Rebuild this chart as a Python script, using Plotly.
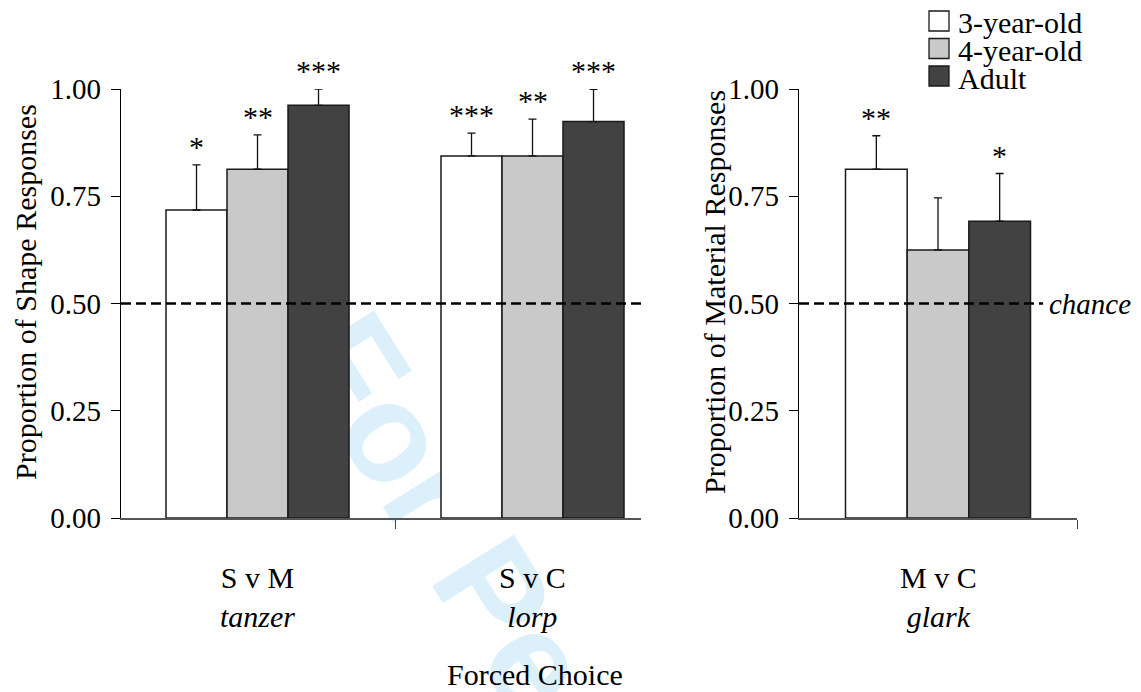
import plotly.graph_objects as go

# window size and the browser's default body margin around the figure
WIN_W, WIN_H = 1141, 692
BODY = 8
W, H = WIN_W - BODY, WIN_H - BODY

# ---------------- data ----------------
age_groups = ["3-year-old", "4-year-old", "Adult"]
bar_colors = ["#ffffff", "#c9c9c9", "#424242"]

shape_categories = ["S v M<br><i>tanzer</i>", "S v C<br><i>lorp</i>"]
shape_3yo = [0.718, 0.844]
shape_4yo = [0.813, 0.844]
shape_adult = [0.962, 0.924]
shape_3yo_err = [0.105, 0.053]
shape_4yo_err = [0.080, 0.086]
shape_adult_err = [0.038, 0.075]
shape_3yo_sig = ["*", "***"]
shape_4yo_sig = ["**", "**"]
shape_adult_sig = ["***", "***"]

material_categories = ["M v C<br><i>glark</i>"]
material_3yo = [0.813]
material_4yo = [0.625]
material_adult = [0.692]
material_3yo_err = [0.078]
material_4yo_err = [0.121]
material_adult_err = [0.111]
material_3yo_sig = ["**"]
material_4yo_sig = [""]
material_adult_sig = ["*"]

y_ticks = [0.0, 0.25, 0.5, 0.75, 1.0]
chance_level = 0.5
y_titles = ["Proportion of Shape Responses", "Proportion of Material Responses"]
x_title = "Forced Choice"

# ---------------- style ----------------
SERIF = "Liberation Serif, Times New Roman, serif"
FS = 30
TICK_FS = 29
BARGAP = 0.3345


def px_x(p):
    """window pixel (from left) -> paper x"""
    return (p - BODY) / W


def px_y(p):
    """window pixel (from top) -> paper y"""
    return 1 - (p - BODY) / H


shape_vals = [shape_3yo, shape_4yo, shape_adult]
shape_errs = [shape_3yo_err, shape_4yo_err, shape_adult_err]
shape_sigs = [shape_3yo_sig, shape_4yo_sig, shape_adult_sig]
mat_vals = [material_3yo, material_4yo, material_adult]
mat_errs = [material_3yo_err, material_4yo_err, material_adult_err]
mat_sigs = [material_3yo_sig, material_4yo_sig, material_adult_sig]

fig = go.Figure()

annotations = []
shapes = []

# watermark, as a label of an invisible shape drawn below the traces
shapes.append(dict(
    type="rect", xref="paper", yref="paper", layer="below",
    x0=px_x(618), x1=px_x(638), y0=px_y(793), y1=px_y(773),
    line=dict(width=0), fillcolor="rgba(0,0,0,0)",
    label=dict(text="<b>For Peer Review</b>", textangle=58, textposition="middle center",
               font=dict(family="Liberation Sans, Arial, sans-serif", size=140,
                         color="#dcf0fc")),
))


def add_panel(cats, vals, errs, sigs, xa, ya):
    n = len(cats)
    xs = list(range(n))
    gw = 1 - BARGAP
    bw = gw / len(age_groups)
    for k, (name, col) in enumerate(zip(age_groups, bar_colors)):
        fig.add_trace(go.Bar(
            x=xs, y=vals[k], name=name, xaxis=xa, yaxis=ya, showlegend=False,
            marker=dict(color=col, line=dict(color="#1a1a1a", width=1.5)),
            error_y=dict(type="data", symmetric=False, array=errs[k],
                         arrayminus=[0] * n, color="#111111", thickness=1.3, width=4),
            cliponaxis=False,
        ))
        off = -gw / 2 + bw * (k + 0.5)
        for i in range(n):
            if sigs[k][i]:
                annotations.append(dict(
                    text=sigs[k][i], x=xs[i] + off, y=vals[k][i] + errs[k][i],
                    xref=xa, yref=ya, xanchor="center", yanchor="bottom",
                    showarrow=False, font=dict(family=SERIF, size=FS, color="black"),
                ))
    for i, c in enumerate(cats):
        annotations.append(dict(
            text=c, x=xs[i], y=px_y(559), xref=xa, yref="paper",
            xanchor="center", yanchor="top", showarrow=False,
            font=dict(family=SERIF, size=FS, color="black"),
        ))


add_panel(shape_categories, shape_vals, shape_errs, shape_sigs, "x", "y")
add_panel(material_categories, mat_vals, mat_errs, mat_sigs, "x2", "y2")

annotations.append(dict(
    text=x_title, x=px_x(535), y=px_y(674), xref="paper", yref="paper",
    xanchor="center", yanchor="middle", showarrow=False,
    font=dict(family=SERIF, size=FS, color="black"),
))
annotations.append(dict(
    text="<i>chance</i>", x=px_x(1047), y=chance_level, xref="paper", yref="y2",
    xanchor="left", yanchor="middle", showarrow=False,
    font=dict(family=SERIF, size=29, color="black"),
))
# y-axis titles
for title, cx in zip(y_titles, [25, 714]):
    annotations.append(dict(
        text=title, x=px_x(cx), y=px_y(292), xref="paper", yref="paper",
        xanchor="center", yanchor="middle", textangle=-90, showarrow=False,
        font=dict(family=SERIF, size=FS, color="black"),
    ))

# chance lines
shapes.append(dict(type="line", xref="x domain", yref="y", x0=0, x1=1.004,
                   y0=chance_level, y1=chance_level,
                   line=dict(color="black", width=2.5, dash="10px,5px")))
shapes.append(dict(type="line", xref="x2 domain", yref="y2", x0=0, x1=0.878,
                   y0=chance_level, y1=chance_level,
                   line=dict(color="black", width=2.5, dash="10px,5px")))

# manual legend
leg_rows = [21, 48.5, 76]
for k, (name, col) in enumerate(zip(age_groups, bar_colors)):
    cy = leg_rows[k]
    shapes.append(dict(type="rect", xref="paper", yref="paper",
                       x0=px_x(929), x1=px_x(949), y0=px_y(cy + 10), y1=px_y(cy - 10),
                       fillcolor=col, line=dict(color="#1a1a1a", width=1.3)))
    annotations.append(dict(
        text=name, x=px_x(957), y=px_y(cy + 2), xref="paper", yref="paper",
        xanchor="left", yanchor="middle", showarrow=False, borderpad=0,
        font=dict(family=SERIF, size=FS, color="black"),
    ))

yaxis_common = dict(
    range=[0, 1], tickvals=y_ticks, tickformat=".2f", ticks="outside", ticklen=9,
    tickwidth=1.2, tickcolor="black", showline=True, linecolor="black", linewidth=1.2,
    showgrid=False, zeroline=False, automargin=False, ticklabelstandoff=4,
    tickfont=dict(family=SERIF, size=TICK_FS, color="black"),
    domain=[px_y(518), px_y(89)],
)
xaxis_common = dict(
    tickvals=[0.5], ticktext=[""], ticks="outside", ticklen=9, tickwidth=1.2,
    tickcolor="#444", showline=True, linecolor="#555", linewidth=1.5,
    showgrid=False, zeroline=False, automargin=False,
)

fig.update_layout(
    width=W, height=H, margin=dict(l=0, r=0, t=0, b=0, pad=0, autoexpand=False),
    paper_bgcolor="white", plot_bgcolor="rgba(0,0,0,0)",
    barmode="group", bargap=BARGAP, bargroupgap=0,
    showlegend=False,
    font=dict(family=SERIF, size=FS, color="black"),
    xaxis=dict(domain=[px_x(121), px_x(641)], range=[-0.4964, 1.3945], anchor="y",
               **xaxis_common),
    xaxis2=dict(domain=[px_x(799), px_x(1077)], range=[-0.5, 0.5], anchor="y2",
                **xaxis_common),
    yaxis=dict(anchor="x", **yaxis_common),
    yaxis2=dict(anchor="x2", **yaxis_common),
    annotations=annotations,
    shapes=shapes,
)

fig.write_html("out.html")
